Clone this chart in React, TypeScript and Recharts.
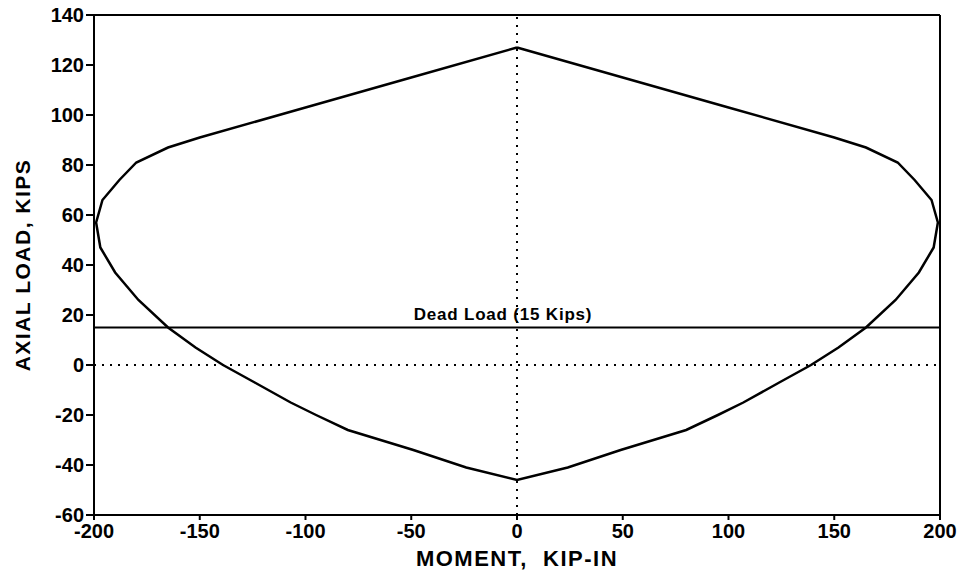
import React from 'react';
import {
  LineChart,
  Line,
  XAxis,
  YAxis,
  ReferenceLine,
  Label
} from 'recharts';

// interaction diagram outline (moment kip-in, axial kips)
const momentValues = [
  0, -50, -100, -150, -165, -180, -188, -196, -199, -197, -190, -179, -165, -152, -139, -124, -107, -95, -80, -49, -24, 0,
  24, 49, 80, 95, 107, 124, 139, 152, 165, 179, 190, 197, 199, 196, 188, 180, 165, 150, 100, 50, 0
];
const axialValues = [
  127, 115, 103, 91, 87, 81, 74, 66, 57, 47, 37, 26, 15, 7, 0, -7, -15, -20, -26, -34, -41, -46,
  -41, -34, -26, -20, -15, -7, 0, 7, 15, 26, 37, 47, 57, 66, 74, 81, 87, 91, 103, 115, 127
];

const xTicks = [-200, -150, -100, -50, 0, 50, 100, 150, 200];
const yTicks = [-60, -40, -20, 0, 20, 40, 60, 80, 100, 120, 140];
const deadLoad = 15;

const data = momentValues.map((m, i) => ({ m, p: axialValues[i] }));

const font = '"Liberation Sans", Arial, sans-serif';
const tickStyle = { fill: '#000', fontSize: 20, fontWeight: 'bold', fontFamily: font };

const App: React.FC = () => {
  return (
    <div style={{ position: 'absolute', left: 0, top: 0, background: '#fff' }}>
      <LineChart
        width={964}
        height={582}
        data={data}
        margin={{ top: 15, right: 24, bottom: 0, left: 0 }}
      >
        <XAxis
          dataKey="m"
          type="number"
          domain={[-200, 200]}
          ticks={xTicks}
          height={67}
          tick={tickStyle}
          tickSize={5}
          tickMargin={4}
          stroke="#000"
          strokeWidth={2}
          interval={0}
        >
          <Label
            value={'MOMENT,\u00a0\u00a0KIP-IN'}
            position="insideBottom"
            offset={16}
            style={{ fill: '#000', fontSize: 22, fontWeight: 'bold', fontFamily: font, letterSpacing: 1.5 }}
          />
        </XAxis>
        <YAxis
          dataKey="p"
          type="number"
          domain={[-60, 140]}
          ticks={yTicks}
          width={94}
          tick={tickStyle}
          tickSize={8}
          tickMargin={2}
          stroke="#000"
          strokeWidth={2}
          interval={0}
        >
          <Label
            value="AXIAL LOAD, KIPS"
            angle={-90}
            position="insideLeft"
            offset={23}
            style={{ fill: '#000', fontSize: 21, fontWeight: 'bold', fontFamily: font, textAnchor: 'middle', letterSpacing: 1.5 }}
          />
        </YAxis>
        <ReferenceLine y={140} stroke="#000" strokeWidth={2} />
        <ReferenceLine x={200} stroke="#000" strokeWidth={2} />
        <ReferenceLine x={0} stroke="#000" strokeWidth={2} strokeDasharray="2 6" />
        <ReferenceLine y={0} stroke="#000" strokeWidth={2} strokeDasharray="2 6" />
        <ReferenceLine y={deadLoad} stroke="#000" strokeWidth={2}>
          <Label
            value="Dead Load (15 Kips)"
            position="top"
            offset={8}
            dx={-14}
            style={{ fill: '#000', fontSize: 17, fontWeight: 'bold', fontFamily: font, letterSpacing: 0.8 }}
          />
        </ReferenceLine>
        <Line
          dataKey="p"
          type="linear"
          stroke="#000"
          strokeWidth={2.5}
          dot={false}
          isAnimationActive={false}
        />
      </LineChart>
    </div>
  );
};

export default App;
